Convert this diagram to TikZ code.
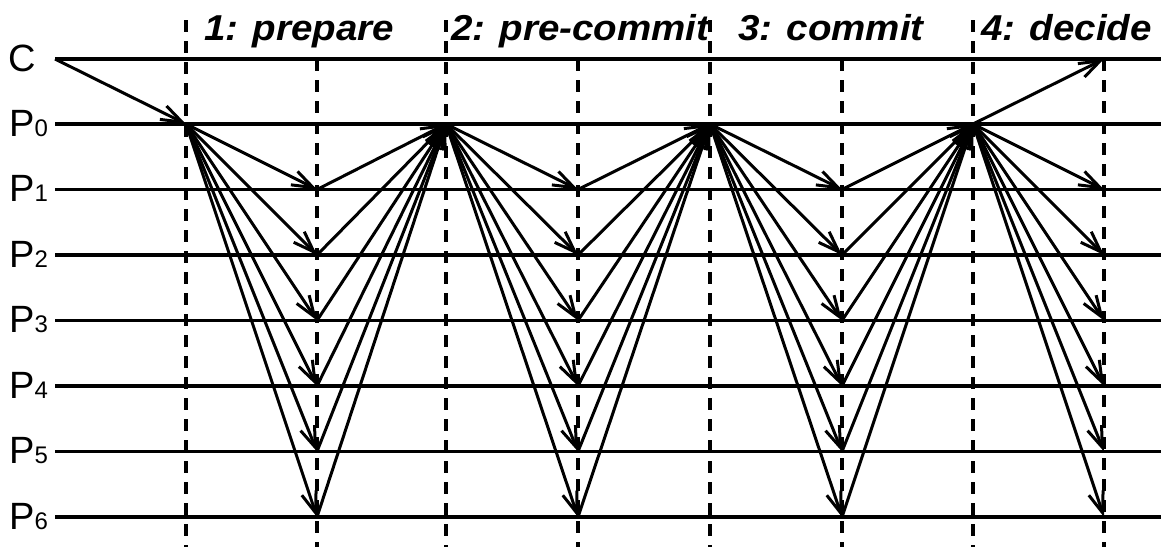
\documentclass[tikz,border=0pt]{standalone}
\usepackage{fontspec}
\setmainfont{Liberation Sans}
\usetikzlibrary{arrows.meta}
\begin{document}
\begin{tikzpicture}[x=1pt,y=-1pt,
  hline/.style={line width=3.6pt},
  vline/.style={line width=3.2pt, dash pattern=on 12pt off 9pt},
  msg/.style={line width=3pt, -{Straight Barb[length=21pt,width=15pt]}},
  lbl/.style={font=\fontsize{38}{40}\selectfont, inner sep=0pt, anchor=base west},
  ttl/.style={font=\fontsize{36}{38}\selectfont\bfseries\itshape, inner sep=0pt, anchor=base west}]
\useasboundingbox (0,0) rectangle (1161,547);
% rows and points
\foreach \n/\y in {C/59,0/124,1/189.5,2/255,3/320.5,4/386,5/451.5,6/517}{
  \coordinate (rs\n) at (55,\y);
  \coordinate (re\n) at (1161,\y);
  \foreach \k/\x in {0/186,1/317,2/446,3/578,4/710,5/842,6/973,7/1104}{
    \coordinate (n\n-\k) at (\x,\y);
  }
}
\foreach \n in {C,0,1,2,3,4,5,6}{\draw[hline] (rs\n) -- (re\n);}
% dashed phase lines
\foreach \k/\x/\t in {0/186/20,1/317/59,2/446/20,3/578/59,4/710/20,5/842/59,6/973/20,7/1104/59}{
  \coordinate (vt\k) at (\x,\t);
  \coordinate (vb\k) at (\x,547);
  \draw[vline] (vt\k) -- (vb\k);
}
% labels
\node[lbl] (labC) at (8,71) {C};
\foreach \n/\y in {0/136,1/201.5,2/267,3/332.5,4/398,5/463.5,6/529}{
  \node[lbl] (lab\n) at (9,\y) {P{\fontsize{24}{24}\selectfont\n}};
}
% titles
\node[ttl] (t1) at (204,40) {\scalebox{1.07}[1]{1: prepare}};
\node[ttl] (t2) at (451,40) {\scalebox{1.07}[1]{2: pre-commit}};
\node[ttl] (t3) at (738,40) {\scalebox{1.07}[1]{3: commit}};
\node[ttl] (t4) at (981,40) {\scalebox{1.07}[1]{4: decide}};
% messages
\draw[msg] (rsC) -- (n0-0);
\foreach \a/\b/\c in {0/1/2,2/3/4,4/5/6}{
  \foreach \i in {1,...,6}{
    \draw[msg] (n0-\a) -- (n\i-\b);
    \draw[msg] (n\i-\b) -- (n0-\c);
  }
}
\foreach \i in {C,1,2,3,4,5,6}{\draw[msg] (n0-6) -- (n\i-7);}
\end{tikzpicture}
\end{document}
